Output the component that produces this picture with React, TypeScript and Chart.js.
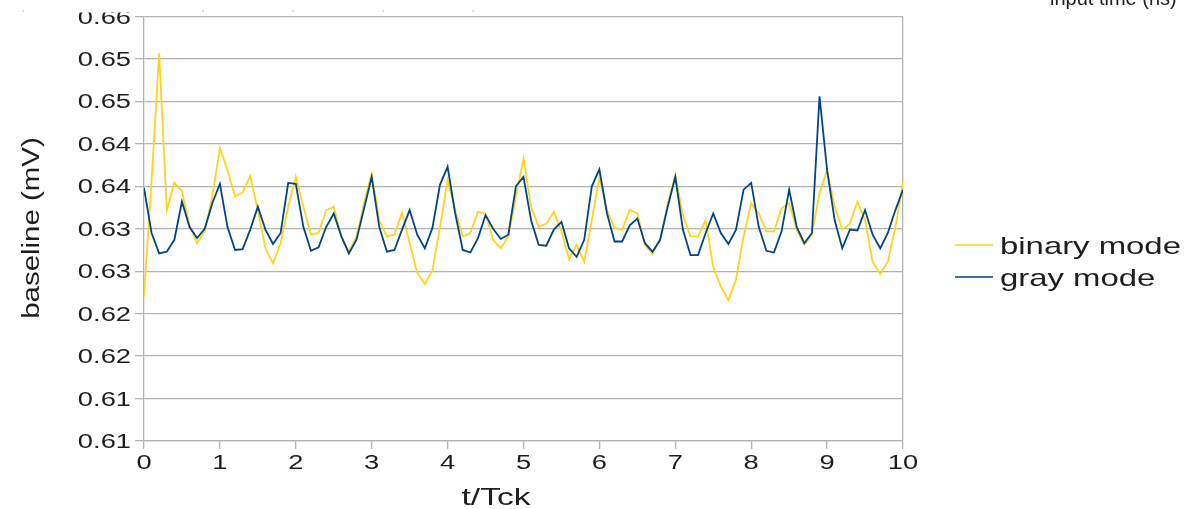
import { useEffect, useRef } from 'react';
import { Chart, registerables } from 'chart.js';

Chart.register(...registerables);

// time grid (t/Tck), 10 samples per clock period
const tValues: number[] = Array.from({ length: 101 }, (_, i) => i / 10);

const binaryMode: number[] = [
  0.6270, 0.6407, 0.6557, 0.6372, 0.6404, 0.6394, 0.6354, 0.6333, 0.6347, 0.6388,
  0.6445, 0.6419, 0.6388, 0.6393, 0.6412, 0.6372, 0.6327, 0.6309, 0.6333, 0.6376,
  0.6411, 0.6376, 0.6343, 0.6345, 0.6372, 0.6376, 0.6341, 0.6323, 0.6341, 0.6380,
  0.6415, 0.6360, 0.6341, 0.6343, 0.6369, 0.6333, 0.6298, 0.6285, 0.6301, 0.6352,
  0.6407, 0.6372, 0.6341, 0.6345, 0.6370, 0.6368, 0.6337, 0.6327, 0.6341, 0.6388,
  0.6433, 0.6376, 0.6352, 0.6356, 0.6370, 0.6347, 0.6314, 0.6331, 0.6311, 0.6360,
  0.6411, 0.6372, 0.6351, 0.6349, 0.6372, 0.6368, 0.6331, 0.6320, 0.6337, 0.6380,
  0.6413, 0.6366, 0.6341, 0.6341, 0.6360, 0.6305, 0.6282, 0.6266, 0.6290, 0.6341,
  0.6380, 0.6368, 0.6347, 0.6347, 0.6374, 0.6380, 0.6349, 0.6331, 0.6343, 0.6392,
  0.6419, 0.6376, 0.6349, 0.6356, 0.6382, 0.6360, 0.6311, 0.6297, 0.6311, 0.6352,
  0.6405,
];

const grayMode: number[] = [
  0.6398, 0.6345, 0.6321, 0.6323, 0.6337, 0.6382, 0.6352, 0.6339, 0.6350, 0.6380,
  0.6403, 0.6352, 0.6325, 0.6326, 0.6349, 0.6376, 0.6349, 0.6332, 0.6345, 0.6404,
  0.6403, 0.6352, 0.6324, 0.6328, 0.6352, 0.6368, 0.6341, 0.6321, 0.6337, 0.6374,
  0.6411, 0.6352, 0.6323, 0.6325, 0.6349, 0.6372, 0.6343, 0.6327, 0.6351, 0.6402,
  0.6423, 0.6368, 0.6325, 0.6322, 0.6339, 0.6366, 0.6350, 0.6338, 0.6343, 0.6400,
  0.6411, 0.6360, 0.6331, 0.6330, 0.6349, 0.6358, 0.6327, 0.6317, 0.6337, 0.6400,
  0.6420, 0.6368, 0.6335, 0.6335, 0.6354, 0.6362, 0.6333, 0.6323, 0.6337, 0.6376,
  0.6411, 0.6349, 0.6319, 0.6319, 0.6345, 0.6368, 0.6345, 0.6332, 0.6349, 0.6396,
  0.6404, 0.6352, 0.6324, 0.6322, 0.6347, 0.6396, 0.6352, 0.6333, 0.6345, 0.6506,
  0.6419, 0.6360, 0.6327, 0.6349, 0.6348, 0.6372, 0.6343, 0.6327, 0.6345, 0.6372,
  0.6396,
];

const yTickValues: number[] = [0.61, 0.615, 0.62, 0.625, 0.63, 0.635, 0.64, 0.645, 0.65, 0.655, 0.66];
const yTickLabels: string[] = ['0.61', '0.61', '0.62', '0.62', '0.63', '0.63', '0.64', '0.64', '0.65', '0.65', '0.66'];
const xTickValues: number[] = [0, 1, 2, 3, 4, 5, 6, 7, 8, 9, 10];
const xTickLabels: string[] = ['0', '1', '2', '3', '4', '5', '6', '7', '8', '9', '10'];

const seriesNames: string[] = ['binary mode', 'gray mode'];
const seriesColors: string[] = ['#ffd320', '#004586'];

const xTitle = 't/Tck';
const yTitle = 'baseline (mV)';
const topFragment = 'input time (ns)';

const GRID = '#b3b3b3';
const TEXT = '#1e1e1e';
const FONT = '"Liberation Sans", Arial, sans-serif';
const SX = 1.4;

function drawText(
  ctx: CanvasRenderingContext2D,
  text: string,
  x: number,
  y: number,
  align: CanvasTextAlign,
  size: number,
  sx: number,
  baseline: CanvasTextBaseline = 'alphabetic',
  rotate = 0,
) {
  ctx.save();
  ctx.translate(x, y);
  if (rotate) ctx.rotate(rotate);
  ctx.scale(sx, 1);
  ctx.font = `${size}px ${FONT}`;
  ctx.textAlign = align;
  ctx.textBaseline = baseline;
  ctx.fillStyle = TEXT;
  ctx.fillText(text, 0, 0);
  ctx.restore();
}

const textPlugin = {
  id: 'stretchedText',
  afterDraw(chart: any) {
    const ctx: CanvasRenderingContext2D = chart.ctx;
    const ys = chart.scales.y;
    const xs = chart.scales.x;

    ys.ticks.forEach((t: any, i: number) => {
      const py = ys.getPixelForValue(t.value);
      drawText(ctx, yTickLabels[i], 131, py + 7, 'right', 19.5, SX);
    });
    xs.ticks.forEach((t: any, i: number) => {
      const px = xs.getPixelForValue(t.value);
      drawText(ctx, xTickLabels[i], px, 468.5, 'center', 19.5, SX);
    });

    drawText(ctx, xTitle, 496, 505, 'center', 24, SX);
    drawText(ctx, yTitle, 32.5, 228, 'center', 23, 1.28, 'middle', -Math.PI / 2);

    // legend
    const legendY = [245, 277];
    seriesNames.forEach((name, i) => {
      ctx.save();
      ctx.strokeStyle = seriesColors[i];
      ctx.lineWidth = 1.6;
      ctx.beginPath();
      ctx.moveTo(955, legendY[i]);
      ctx.lineTo(993, legendY[i]);
      ctx.stroke();
      ctx.restore();
      drawText(ctx, name, 1000, legendY[i] + 9, 'left', 24, 1.37);
    });

    // cropped top edge of the figure
    ctx.save();
    ctx.fillStyle = '#ffffff';
    ctx.fillRect(0, 0, 143, 12.5);
    ctx.fillStyle = '#c8c8c8';
    [23, 203, 293, 383, 473].forEach((x) => ctx.fillRect(x - 0.5, 10, 1.5, 1.5));
    ctx.restore();
    drawText(ctx, topFragment, 1050, 5, 'left', 20, 1);
  },
};

export default function App() {
  const canvasRef = useRef<HTMLCanvasElement | null>(null);

  useEffect(() => {
    const canvas = canvasRef.current;
    if (!canvas) return;
    const chart = new Chart(canvas, {
      type: 'line',
      data: {
        datasets: [
          {
            label: seriesNames[0],
            data: tValues.map((t, i) => ({ x: t, y: binaryMode[i] })),
            borderColor: seriesColors[0],
            backgroundColor: seriesColors[0],
            borderWidth: 1.8,
            pointRadius: 0,
            tension: 0,
            order: 2,
          },
          {
            label: seriesNames[1],
            data: tValues.map((t, i) => ({ x: t, y: grayMode[i] })),
            borderColor: seriesColors[1],
            backgroundColor: seriesColors[1],
            borderWidth: 1.8,
            pointRadius: 0,
            tension: 0,
            order: 1,
          },
        ],
      },
      options: {
        animation: false,
        responsive: false,
        devicePixelRatio: 1,
        events: [],
        layout: { padding: { left: 0, right: 282, top: 16.5, bottom: 0 } },
        plugins: {
          legend: { display: false },
          tooltip: { enabled: false },
        },
        scales: {
          x: {
            type: 'linear',
            min: 0,
            max: 10,
            ticks: { display: false },
            afterBuildTicks: (s: any) => {
              s.ticks = xTickValues.map((v) => ({ value: v }));
            },
            afterFit: (s: any) => {
              s.height = 68;
            },
            grid: {
              color: (c: any) => (c.tick && c.tick.value === 10 ? GRID : 'rgba(0,0,0,0)'),
              tickColor: GRID,
              tickLength: 8,
              lineWidth: 1.3,
            },
            border: { color: GRID, width: 1.3 },
          },
          y: {
            type: 'linear',
            min: 0.61,
            max: 0.66,
            ticks: { display: false },
            afterBuildTicks: (s: any) => {
              s.ticks = yTickValues.map((v) => ({ value: v }));
            },
            afterFit: (s: any) => {
              s.width = 144;
            },
            grid: {
              color: GRID,
              tickColor: GRID,
              tickLength: 9,
              lineWidth: 1.3,
            },
            border: { color: GRID, width: 1.3 },
          },
        },
      },
      plugins: [textPlugin],
    } as any);
    return () => chart.destroy();
  }, []);

  return (
    <div style={{ position: 'fixed', left: 0, top: 0, width: 1185, height: 509, background: '#fff' }}>
      <canvas ref={canvasRef} width={1185} height={509} style={{ display: 'block' }} />
    </div>
  );
}
